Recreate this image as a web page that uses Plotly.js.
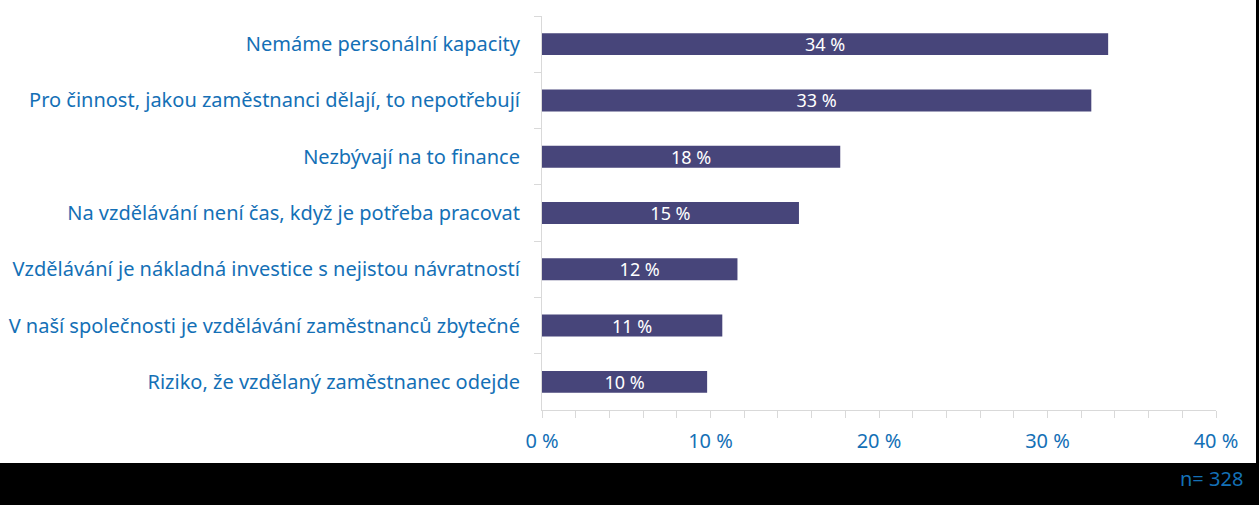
<!DOCTYPE html>
<html>
<head>
<meta charset="utf-8">
<script src="https://cdn.plot.ly/plotly-3.0.1.min.js"></script>
<style>
html,body{margin:0;padding:0;background:#000;width:1259px;height:505px;overflow:hidden;}
#bg{position:absolute;left:0;top:0;width:1256px;height:463px;background:#fff;}
#chart{position:absolute;left:0;top:0;width:1259px;height:505px;}
</style>
</head>
<body>
<div id="bg"></div>
<div id="chart"></div>
<script>
const categories = [
  "Nemáme personální kapacity",
  "Pro činnost, jakou zaměstnanci dělají, to nepotřebují",
  "Nezbývají na to finance",
  "Na vzdělávání není čas, když je potřeba pracovat",
  "Vzdělávání je nákladná investice s nejistou návratností",
  "V naší společnosti je vzdělávání zaměstnanců zbytečné",
  "Riziko, že vzdělaný zaměstnanec odejde"
];
const values = [33.6, 32.6, 17.7, 15.25, 11.6, 10.7, 9.8];
const valueLabels = ["34 %", "33 %", "18 %", "15 %", "12 %", "11 %", "10 %"];
const xTickVals = [0, 10, 20, 30, 40];
const xTickText = ["0 %", "10 %", "20 %", "30 %", "40 %"];
const sampleNote = "n= 328";

const blue = "#1470B6";
const grid = "#d9d9d9";
const fontFam = "Noto Sans, sans-serif";

Plotly.newPlot("chart", [{
  type: "bar",
  orientation: "h",
  y: categories,
  x: values,
  width: 0.39,
  marker: {color: "#47457A", line: {width: 0}},
  text: valueLabels,
  textposition: "inside",
  insidetextanchor: "middle",
  constraintext: "none",
  textfont: {color: "#ffffff", size: 18, family: fontFam},
  hoverinfo: "none"
}], {
  width: 1259, height: 505,
  paper_bgcolor: "rgba(0,0,0,0)",
  plot_bgcolor: "#ffffff",
  margin: {l: 542, r: 43, t: 16, b: 95, pad: 0},
  showlegend: false,
  xaxis: {
    range: [0, 40],
    tickvals: xTickVals,
    ticktext: xTickText,
    ticks: "outside", ticklen: 7, tickcolor: grid, tickwidth: 1,
    minor: {dtick: 2, ticks: "outside", ticklen: 7, tickcolor: grid, tickwidth: 1, showgrid: false},
    showline: true, linecolor: grid, linewidth: 1,
    showgrid: false, zeroline: false,
    tickfont: {color: blue, size: 20, family: fontFam},
    ticklabelstandoff: 6,
    fixedrange: true
  },
  yaxis: {
    type: "category",
    autorange: "reversed",
    ticks: "outside", ticklen: 7, tickcolor: grid, tickwidth: 1,
    tickson: "boundaries",
    showline: true, linecolor: grid, linewidth: 1,
    showgrid: false, zeroline: false,
    tickfont: {color: blue, size: 20, family: fontFam},
    ticklabelstandoff: 17,
    fixedrange: true
  },
  annotations: [{
    text: sampleNote,
    xref: "paper", yref: "paper",
    x: 1.043, y: -0.1726,
    xanchor: "right", yanchor: "middle",
    showarrow: false,
    font: {color: blue, size: 20, family: fontFam}
  }]
}, {staticPlot: true, displayModeBar: false});
</script>
</body>
</html>
